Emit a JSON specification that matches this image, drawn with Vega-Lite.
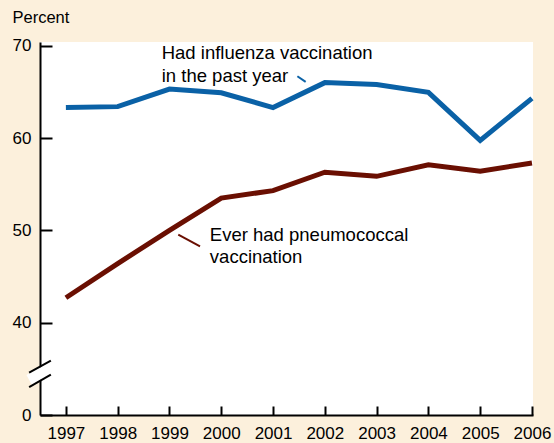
{
  "$schema": "https://vega.github.io/schema/vega-lite/v6.json",
  "width": 493,
  "height": 373,
  "autosize": "none",
  "padding": {"left": 40, "top": 42, "right": 21, "bottom": 28},
  "background": "#FCF0DC",
  "view": {"fill": "white", "stroke": null},
  "config": {
    "font": "Liberation Sans",
    "axis": {"labelFont": "Liberation Sans", "labelFontSize": 17, "labelColor": "black", "domainColor": "black", "domainWidth": 2, "tickColor": "black", "tickWidth": 2, "grid": false}
  },
  "datasets": {
    "series": [
      {"year": 1997, "value": 63.3, "series": "Influenza"},
      {"year": 1998, "value": 63.4, "series": "Influenza"},
      {"year": 1999, "value": 65.3, "series": "Influenza"},
      {"year": 2000, "value": 64.9, "series": "Influenza"},
      {"year": 2001, "value": 63.3, "series": "Influenza"},
      {"year": 2002, "value": 66.0, "series": "Influenza"},
      {"year": 2003, "value": 65.8, "series": "Influenza"},
      {"year": 2004, "value": 64.95, "series": "Influenza"},
      {"year": 2005, "value": 59.75, "series": "Influenza"},
      {"year": 2006, "value": 64.3, "series": "Influenza"},
      {"year": 1997, "value": 42.7, "series": "Pneumococcal"},
      {"year": 1998, "value": 46.4, "series": "Pneumococcal"},
      {"year": 1999, "value": 50.0, "series": "Pneumococcal"},
      {"year": 2000, "value": 53.5, "series": "Pneumococcal"},
      {"year": 2001, "value": 54.3, "series": "Pneumococcal"},
      {"year": 2002, "value": 56.3, "series": "Pneumococcal"},
      {"year": 2003, "value": 55.85, "series": "Pneumococcal"},
      {"year": 2004, "value": 57.1, "series": "Pneumococcal"},
      {"year": 2005, "value": 56.4, "series": "Pneumococcal"},
      {"year": 2006, "value": 57.3, "series": "Pneumococcal"}
    ],
    "labels": [
      {"year": 1998.85, "value": 69.25, "text": "Had influenza vaccination"},
      {"year": 1998.85, "value": 66.76, "text": "in the past year"},
      {"year": 1999.78, "value": 49.53, "text": "Ever had pneumococcal"},
      {"year": 1999.78, "value": 47.15, "text": "vaccination"}
    ],
    "leaders": [
      {"x1": 2001.47, "y1": 66.69, "x2": 2001.63, "y2": 66.08, "series": "Influenza"},
      {"x1": 1999.17, "y1": 49.53, "x2": 1999.59, "y2": 48.27, "series": "Pneumococcal"}
    ],
    "breakgap": [
      {"x1": 1996.29, "y1": 33.8, "x2": 1996.71, "y2": 35.12}
    ],
    "breaklines": [
      {"x1": 1996.29, "y1": 34.6, "x2": 1996.71, "y2": 35.88},
      {"x1": 1996.29, "y1": 33.03, "x2": 1996.71, "y2": 34.37}
    ]
  },
  "layer": [
    {
      "data": {"name": "series"},
      "mark": {"type": "line", "strokeWidth": 5},
      "encoding": {
        "x": {"field": "year", "type": "quantitative", "scale": {"domain": [1996.5, 2006.02], "nice": false, "zero": false},
          "axis": {"values": [1997, 1998, 1999, 2000, 2001, 2002, 2003, 2004, 2005, 2006], "format": "d", "title": null, "tickSize": -9, "labelPadding": 19, "labelFlush": false, "labelOverlap": false}},
        "y": {"field": "value", "type": "quantitative", "scale": {"domain": [30, 70.4], "nice": false, "zero": false},
          "axis": {"values": [30, 40, 50, 60, 70], "labelExpr": "datum.value == 30 ? '0' : datum.label", "tickSize": -12, "labelPadding": 21,
            "title": "Percent", "titleAngle": 0, "titleAlign": "left", "titleBaseline": "alphabetic", "titleX": -28, "titleY": -20, "titleFont": "Liberation Sans", "titleFontSize": 16.5, "titleFontWeight": "normal", "titleColor": "black"}},
        "color": {"field": "series", "type": "nominal", "scale": {"domain": ["Influenza", "Pneumococcal"], "range": ["#0A61A6", "#6A0F02"]}, "legend": null}
      }
    },
    {
      "data": {"name": "leaders"},
      "mark": {"type": "rule", "strokeWidth": 2},
      "encoding": {
        "x": {"field": "x1", "type": "quantitative"},
        "y": {"field": "y1", "type": "quantitative"},
        "x2": {"field": "x2"},
        "y2": {"field": "y2"},
        "color": {"field": "series", "type": "nominal", "legend": null}
      }
    },
    {
      "data": {"name": "labels"},
      "mark": {"type": "text", "align": "left", "baseline": "middle", "fontSize": 18.5, "font": "Liberation Sans", "color": "black"},
      "encoding": {
        "x": {"field": "year", "type": "quantitative"},
        "y": {"field": "value", "type": "quantitative"},
        "text": {"field": "text"}
      }
    },
    {
      "data": {"name": "breakgap"},
      "mark": {"type": "rule", "strokeWidth": 11, "color": "white"},
      "encoding": {
        "x": {"field": "x1", "type": "quantitative"},
        "y": {"field": "y1", "type": "quantitative"},
        "x2": {"field": "x2"},
        "y2": {"field": "y2"}
      }
    },
    {
      "data": {"name": "breaklines"},
      "mark": {"type": "rule", "strokeWidth": 2, "color": "black"},
      "encoding": {
        "x": {"field": "x1", "type": "quantitative"},
        "y": {"field": "y1", "type": "quantitative"},
        "x2": {"field": "x2"},
        "y2": {"field": "y2"}
      }
    }
  ]
}
